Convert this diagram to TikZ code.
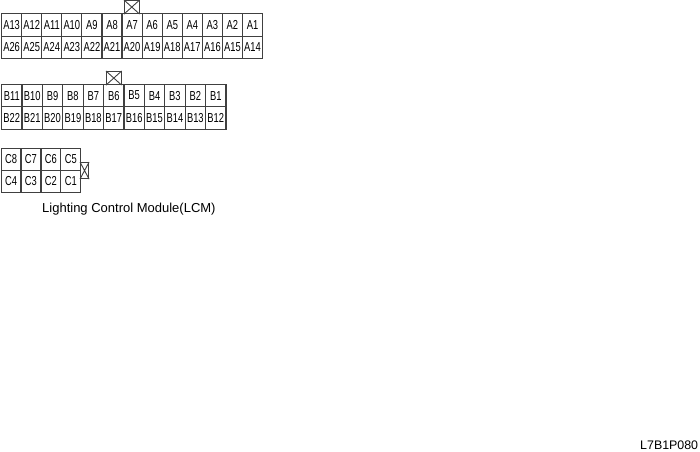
\documentclass[tikz,border=0pt]{standalone}
\usepackage{fontspec}
\setmainfont{Liberation Sans}
\newfontfamily\cellfont[FakeStretch=0.72]{Liberation Sans}
\definecolor{linegray}{gray}{0.25}
\tikzset{
  cellbox/.style={draw=linegray,line width=1.1pt,inner sep=0pt,anchor=north west,font=\cellfont\fontsize{13}{13}\selectfont,text=black},
  blockbox/.style={draw=linegray,line width=1.1pt,inner sep=0pt,anchor=north west},
  cross/.style={draw=linegray,line width=0.9pt},
  caption/.style={inner sep=0pt,text=black,font=\fontsize{13}{15}\selectfont},
  codetext/.style={inner sep=0pt,text=black,font=\fontsize{12.4}{15}\selectfont}
}
\begin{document}
\begin{tikzpicture}[x=1pt,y=-1pt]
\useasboundingbox (0,0) rectangle (700,451);
% row A
\foreach \i/\t/\b in {0/A13/A26,1/A12/A25,2/A11/A24,3/A10/A23,4/A9/A22,5/A8/A21,6/A7/A20,7/A6/A19,8/A5/A18,9/A4/A17,10/A3/A16,11/A2/A15,12/A1/A14}{
  \node[cellbox,minimum width=20.08pt,minimum height=22.5pt] (\t) at ({1+\i*20.08},13) {\t};
  \node[cellbox,minimum width=20.08pt,minimum height=22.5pt] (\b) at ({1+\i*20.08},35.5) {\b};
}
\node[blockbox,minimum width=14.5pt,minimum height=13pt] (XA) at (124,0) {};
\draw[cross] (XA.north west) -- (XA.south east) (XA.north east) -- (XA.south west);
% row B
\foreach \i/\t/\b in {0/B11/B22,1/B10/B21,2/B9/B20,3/B8/B19,4/B7/B18,5/B6/B17,6/B5/B16,7/B4/B15,8/B3/B14,9/B2/B13,10/B1/B12}{
  \node[cellbox,minimum width=20.4pt,minimum height=22pt] (\t) at ({1+\i*20.4},84) {\t};
  \node[cellbox,minimum width=20.4pt,minimum height=22.5pt] (\b) at ({1+\i*20.4},106) {\b};
}
\node[blockbox,minimum width=14.5pt,minimum height=13pt] (XB) at (106,71) {};
\draw[cross] (XB.north west) -- (XB.south east) (XB.north east) -- (XB.south west);
% row C
\foreach \i/\t/\b in {0/C8/C4,1/C7/C3,2/C6/C2,3/C5/C1}{
  \node[cellbox,minimum width=20pt,minimum height=22pt] (\t) at ({0.5+\i*19.9},147.5) {\t};
  \node[cellbox,minimum width=20pt,minimum height=22pt] (\b) at ({0.5+\i*19.9},169.5) {\b};
}
\node[blockbox,minimum width=8pt,minimum height=16pt] (XC) at (80,162) {};
\draw[cross] (XC.north west) -- (XC.south east) (XC.north east) -- (XC.south west);
\node[caption,anchor=base west] (title) at (42,212) {Lighting Control Module(LCM)};
\node[codetext,anchor=base west] (code) at (640,449) {L7B1P080};
\end{tikzpicture}
\end{document}
